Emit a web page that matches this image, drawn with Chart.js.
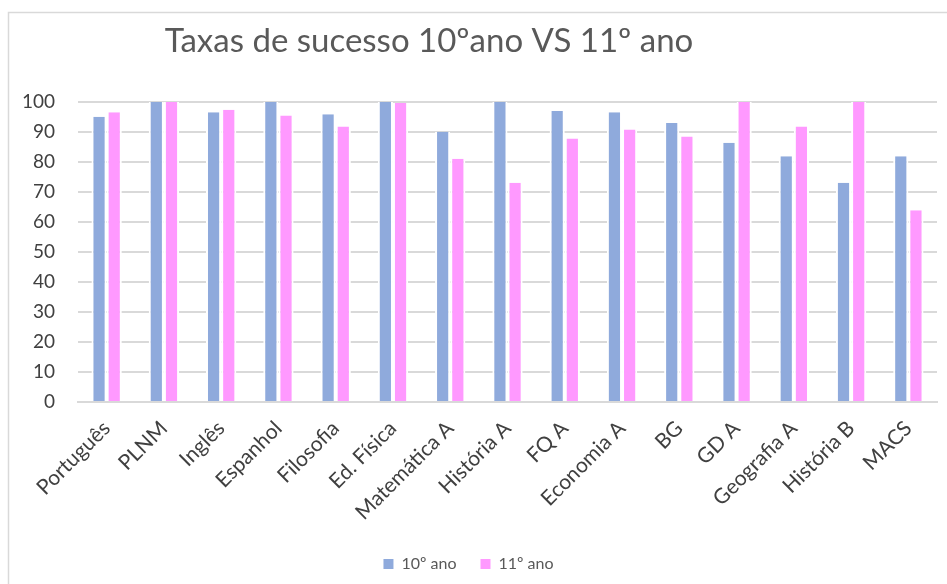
<!DOCTYPE html>
<html>
<head>
<meta charset="utf-8">
<script src="https://cdn.jsdelivr.net/npm/chart.js@4"></script>
<style>
  html, body { margin: 0; padding: 0; background: #fff; }
  #wrap { width: 947px; height: 584px; position: relative; }
</style>
</head>
<body>
<div id="wrap"><canvas id="canvas"></canvas></div>
<script>
const ctx = document.getElementById("canvas");

// subjects on the x axis
const subjects = [
  "Português", "PLNM", "Inglês", "Espanhol", "Filosofia", "Ed. Física",
  "Matemática A", "História A", "FQ A", "Economia A", "BG", "GD A",
  "Geografia A", "História B", "MACS",
];

// success rates (%)
const ano10 = [95.1, 100, 96.6, 100, 95.9, 100, 90.1, 100, 97.0, 96.6, 93.0, 86.4, 81.9, 73.1, 81.9];
const ano11 = [96.6, 100, 97.4, 95.5, 91.8, 99.7, 81.1, 73.1, 87.8, 90.8, 88.5, 100, 91.8, 100, 63.9];

const seriesNames = ["10º ano", "11º ano"];
const seriesColors = ["#8FAADC", "#FF99FF"];
const chartTitle = "Taxas de sucesso 10ºano VS 11º ano";

const FONT = "Lato, 'Open Sans', sans-serif";

const frameAndTitle = {
  id: "frameAndTitle",
  beforeDraw(chart) {
    const c = chart.ctx;
    c.save();
    c.fillStyle = "#fff";
    c.fillRect(0, 0, chart.width, chart.height);
    c.strokeStyle = "#d9d9d9";
    c.lineWidth = 1.5;
    c.strokeRect(8.5, 12.5, chart.width + 20, chart.height + 20);
    c.restore();
  },
  afterDraw(chart) {
    const c = chart.ctx;
    c.save();
    c.font = "33px " + FONT;
    c.fillStyle = "#595959";
    c.textAlign = "center";
    c.textBaseline = "middle";
    c.fillText(chartTitle, 429, 41);
    c.restore();
  },
};

const datasets = seriesNames.map((name, i) => ({
  label: name,
  data: i === 0 ? ano10 : ano11,
  backgroundColor: seriesColors[i],
  borderColor: "#ffffff",
  borderWidth: { left: 2, right: 2, top: 0, bottom: 0 },
  borderSkipped: false,
}));

new Chart(ctx, {
  type: "bar",
  data: { labels: subjects, datasets: datasets },
  plugins: [frameAndTitle],
  options: {
    responsive: true,
    maintainAspectRatio: false,
    animation: false,
    layout: { padding: { top: 102, right: 10, bottom: 2, left: 0 } },
    datasets: {
      bar: { categoryPercentage: 0.53, barPercentage: 1.0 },
    },
    plugins: {
      title: { display: false },
      tooltip: { enabled: false },
      legend: {
        position: "bottom",
        labels: {
          boxWidth: 10,
          boxHeight: 10,
          color: "#595959",
          font: { family: FONT, size: 16 },
          padding: 24,
          generateLabels(chart) {
            return chart.data.datasets.map((ds, i) => ({
              text: ds.label,
              fillStyle: ds.backgroundColor,
              strokeStyle: ds.backgroundColor,
              lineWidth: 0,
              datasetIndex: i,
              fontColor: "#595959",
            }));
          },
        },
      },
    },
    scales: {
      x: {
        grid: { display: false, drawTicks: false },
        border: { color: "#d9d9d9", width: 2 },
        ticks: {
          minRotation: 45,
          maxRotation: 45,
          autoSkip: false,
          padding: 14,
          color: "#404040",
          font: { family: FONT, size: 21 },
        },
        afterFit(scale) { scale.height = 130; },
      },
      y: {
        min: 0,
        max: 100,
        ticks: {
          stepSize: 10,
          padding: 23,
          color: "#404040",
          font: { family: FONT, size: 19 },
        },
        grid: { color: "#d9d9d9", lineWidth: 2, drawTicks: false },
        border: { display: false },
        afterFit(scale) { scale.width = 78; },
      },
    },
  },
});
</script>
</body>
</html>
